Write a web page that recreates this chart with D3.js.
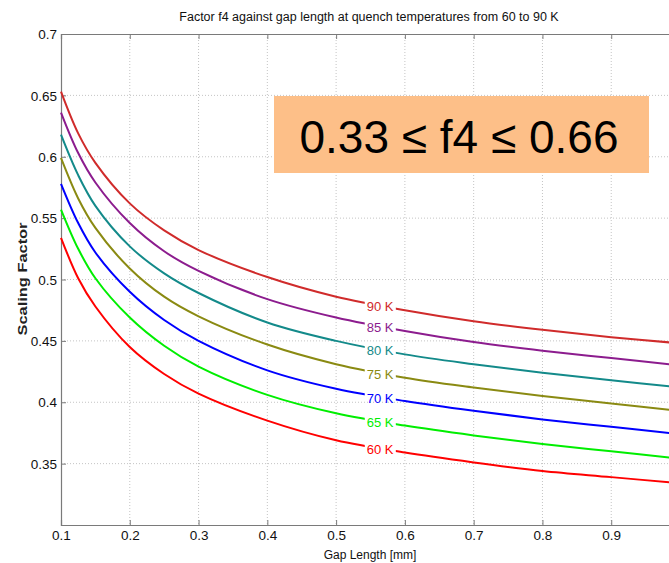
<!DOCTYPE html>
<html>
<head>
<meta charset="utf-8">
<script src="https://cdn.jsdelivr.net/npm/d3@7"></script>
<style>
  html, body { margin: 0; padding: 0; background: #fff; }
  svg { display: block; font-family: "Liberation Sans", Arial, sans-serif; }
</style>
</head>
<body>
<svg id="chart" width="669" height="563"></svg>
<script>
// ---- data ----
const gapLength = [0.1, 0.125, 0.15, 0.2, 0.25, 0.3, 0.4, 0.5, 0.6, 0.7, 0.8, 0.9, 1.0];
const temperatures = ["90 K", "85 K", "80 K", "75 K", "70 K", "65 K", "60 K"];
const f4_90K = [0.653, 0.619, 0.595, 0.562, 0.540, 0.524, 0.502, 0.486, 0.475, 0.466, 0.459, 0.453, 0.448];
const f4_85K = [0.636, 0.603, 0.579, 0.546, 0.523, 0.507, 0.484, 0.469, 0.458, 0.449, 0.442, 0.436, 0.430];
const f4_80K = [0.618, 0.585, 0.560, 0.527, 0.505, 0.489, 0.465, 0.450, 0.439, 0.431, 0.424, 0.418, 0.412];
const f4_75K = [0.599, 0.566, 0.542, 0.509, 0.486, 0.470, 0.447, 0.431, 0.420, 0.412, 0.405, 0.399, 0.393];
const f4_70K = [0.578, 0.546, 0.522, 0.490, 0.467, 0.450, 0.426, 0.411, 0.401, 0.393, 0.386, 0.380, 0.374];
const f4_65K = [0.557, 0.525, 0.501, 0.469, 0.446, 0.429, 0.406, 0.391, 0.381, 0.373, 0.366, 0.360, 0.354];
const f4_60K = [0.534, 0.501, 0.478, 0.445, 0.423, 0.407, 0.385, 0.369, 0.359, 0.351, 0.344, 0.339, 0.334];
const xTicks = [0.1, 0.2, 0.3, 0.4, 0.5, 0.6, 0.7, 0.8, 0.9, 1.0];
const yTicks = [0.3, 0.35, 0.4, 0.45, 0.5, 0.55, 0.6, 0.65, 0.7];
const labelGap = 0.564;
const titleText = "Factor f4 against gap length at quench temperatures from 60 to 90 K";
const xLabelText = "Gap Length [mm]";
const yLabelText = "Scaling Factor";
const boxText = "0.33 \u2264 f4 \u2264 0.66";

const seriesValues = [f4_90K, f4_85K, f4_80K, f4_75K, f4_70K, f4_65K, f4_60K];
const colors = ["#d02b2b", "#8c1c8e", "#138a8a", "#8a8a12", "#0000ff", "#00ee00", "#ff0000"];

// ---- layout ----
const L = 61, R = 680, T = 34, B = 525;
const svg = d3.select("#chart");
const x = d3.scaleLinear().domain([0.1, 1.0]).range([L, R]);
const y = d3.scaleLinear().domain([0.3, 0.7]).range([B, T]);

// grid
const grid = svg.append("g");
grid.selectAll("line.vx").data(xTicks.slice(1)).join("line")
  .attr("x1", d => x(d)).attr("x2", d => x(d)).attr("y1", T).attr("y2", B)
  .attr("stroke", "#c4c4c4").attr("stroke-width", 1).attr("stroke-dasharray", "1,2");
grid.selectAll("line.hy").data(yTicks.slice(1, -1)).join("line")
  .attr("x1", L).attr("x2", R).attr("y1", d => y(d)).attr("y2", d => y(d))
  .attr("stroke", "#c4c4c4").attr("stroke-width", 1).attr("stroke-dasharray", "1,2");

// axes
const axColor = "#7a7a7a";
const gx = svg.append("g").attr("transform", `translate(0,${B})`)
  .call(d3.axisBottom(x).tickValues(xTicks.slice(0, -1)).tickSize(-5).tickPadding(6).tickFormat(d3.format("")));
const gxt = svg.append("g").attr("transform", `translate(0,${T})`)
  .call(d3.axisTop(x).tickValues(xTicks.slice(0, -1)).tickSize(-5).tickFormat(""));
const gy = svg.append("g").attr("transform", `translate(${L},0)`)
  .call(d3.axisLeft(y).tickValues(yTicks.slice(1)).tickSize(-5).tickPadding(4).tickFormat(d3.format("")));
[gx, gxt, gy].forEach(g => {
  g.select(".domain").attr("stroke", axColor).attr("stroke-width", 1.2);
  g.selectAll(".tick line").attr("stroke", axColor);
  g.selectAll("text").attr("fill", "#111").attr("font-size", 13.5)
    .attr("font-family", "'Liberation Sans', Arial, sans-serif");
});
gy.selectAll("text").attr("dy", "0.35em");
gx.selectAll("text").attr("dy", "0.65em");

// curves with label gaps
const line = d3.line().x(d => x(d[0])).y(d => y(d[1])).curve(d3.curveCatmullRom.alpha(0.5));
const defs = svg.append("defs");
const plot = svg.append("g");
seriesValues.forEach((vals, i) => {
  const pts = gapLength.map((g, k) => [g, vals[k]]);
  const k = d3.bisectLeft(gapLength, labelGap);
  const t = (labelGap - gapLength[k - 1]) / (gapLength[k] - gapLength[k - 1]);
  const vLab = vals[k - 1] + t * (vals[k] - vals[k - 1]) - 0.001;
  const lx = x(labelGap), ly = y(vLab);
  const label = plot.append("text")
    .attr("x", lx).attr("y", ly).attr("dy", "0.36em")
    .attr("text-anchor", "middle").attr("font-size", 13)
    .attr("fill", colors[i]).text(temperatures[i]);
  const bb = label.node().getBBox();
  const m = defs.append("mask").attr("id", "m" + i).attr("maskUnits", "userSpaceOnUse")
    .attr("x", 0).attr("y", 0).attr("width", 669).attr("height", 563);
  m.append("rect").attr("x", 0).attr("y", 0).attr("width", 669).attr("height", 563).attr("fill", "#fff");
  m.append("rect").attr("x", bb.x - 2).attr("y", bb.y).attr("width", bb.width + 4).attr("height", bb.height).attr("fill", "#000");
  plot.insert("path", "text").datum(pts)
    .attr("d", line).attr("fill", "none").attr("stroke", colors[i]).attr("stroke-width", 2)
    .attr("mask", `url(#m${i})`);
});

// title and axis labels
svg.append("text").attr("x", 369).attr("y", 21).attr("text-anchor", "middle")
  .attr("font-size", 12.5).attr("fill", "#111").text(titleText);
svg.append("text").attr("x", 370).attr("y", 559).attr("text-anchor", "middle")
  .attr("font-size", 12).attr("fill", "#111").text(xLabelText);
svg.append("text").attr("transform", "translate(27,279) rotate(-90)").attr("text-anchor", "middle")
  .attr("font-size", 13).attr("font-weight", "bold").attr("fill", "#222")
  .attr("textLength", 113).attr("lengthAdjust", "spacingAndGlyphs").text(yLabelText);

// annotation box
svg.append("rect").attr("x", 274).attr("y", 96).attr("width", 375).attr("height", 77).attr("fill", "#fdbf88");
svg.append("text").attr("x", 459).attr("y", 153).attr("text-anchor", "middle")
  .attr("font-size", 46).attr("fill", "#000").text(boxText);
</script>
</body>
</html>
